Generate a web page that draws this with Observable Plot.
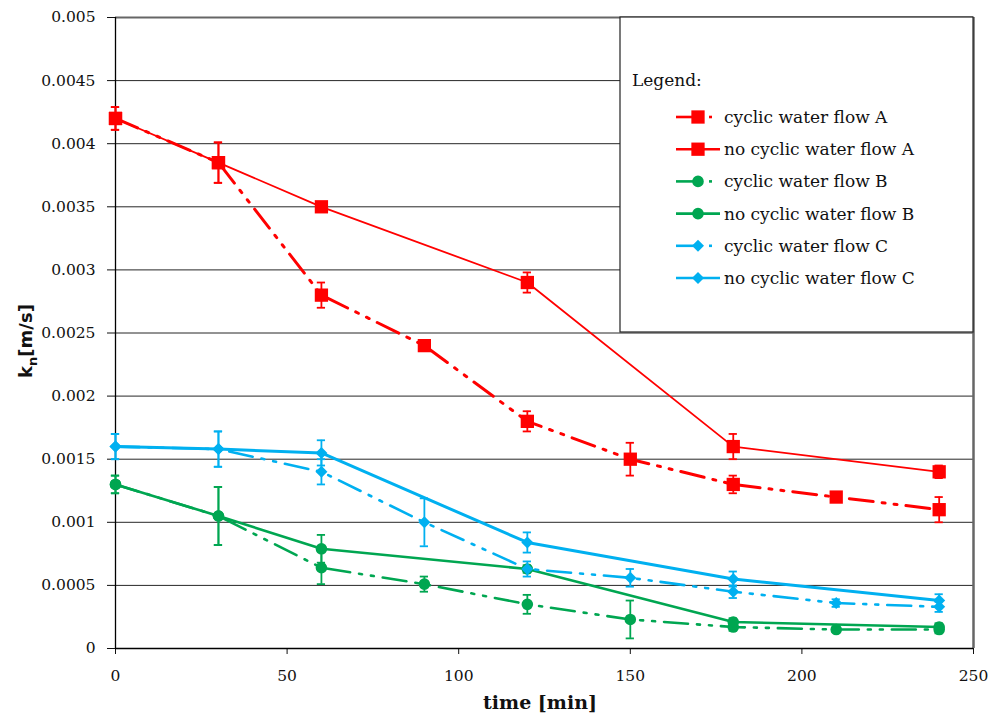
<!DOCTYPE html>
<html><head><meta charset="utf-8">
<script src="https://cdn.jsdelivr.net/npm/d3@7"></script>
<script src="https://cdn.jsdelivr.net/npm/@observablehq/plot@0.6"></script>
<style>
body{margin:0;background:#fff;}
#chart{position:relative;width:990px;height:715px;}
</style>
</head><body><div id="chart"></div>
<script>
// ---- data ----
const xTicks = [0, 50, 100, 150, 200, 250];
const yTicks = [0, 0.0005, 0.001, 0.0015, 0.002, 0.0025, 0.003, 0.0035, 0.004, 0.0045, 0.005];
const timeCyclic = [0, 30, 60, 90, 120, 150, 180, 210, 240];
const timeNoCyclic = [0, 30, 60, 120, 180, 240];

const cyclicA    = [0.0042, 0.00385, 0.0028, 0.0024, 0.0018, 0.0015, 0.0013, 0.0012, 0.0011];
const cyclicAErr = [0.00009, 0.00016, 0.0001, 0.00004, 0.00008, 0.00013, 0.00007, 0.00004, 0.0001];
const noCyclicA    = [0.0042, 0.00385, 0.0035, 0.0029, 0.0016, 0.0014];
const noCyclicAErr = [0.00009, 0.00016, 0.00003, 0.00008, 0.0001, 0.00005];

const cyclicB    = [0.0013, 0.00105, 0.00064, 0.00051, 0.00035, 0.00023, 0.00017, 0.00015, 0.00015];
const cyclicBErr = [0.00007, 0.00023, 0.00013, 0.00006, 0.000075, 0.00015, 0.00003, 0.00002, 0.00003];
const noCyclicB    = [0.0013, 0.00105, 0.00079, 0.00063, 0.00021, 0.00017];
const noCyclicBErr = [0.00007, 0.00023, 0.00011, 0.00003, 0.00003, 0.00003];

const cyclicC    = [0.0016, 0.00158, 0.0014, 0.001, 0.00063, 0.00056, 0.00045, 0.00036, 0.00033];
const cyclicCErr = [0.0001, 0.00014, 0.0001, 0.00019, 0.00006, 0.00007, 0.00005, 0.00003, 0.00004];
const noCyclicC    = [0.0016, 0.00158, 0.00155, 0.00084, 0.00055, 0.00038];
const noCyclicCErr = [0.0001, 0.00014, 0.0001, 0.00008, 0.00006, 0.00005];

const seriesNames = ["cyclic water flow A", "no cyclic water flow A", "cyclic water flow B",
                     "no cyclic water flow B", "cyclic water flow C", "no cyclic water flow C"];
const legendTitle = "Legend:";
const xLabel = "time [min]";

// ---- styles ----
const RED = "#ff0000", GREEN = "#00a651", BLUE = "#00b0f0";
const DASH = "24,9,3,9,3,9";
const series = [
  {name: seriesNames[0], t: timeCyclic,   v: cyclicA,   e: cyclicAErr,   color: RED,   symbol: "square",   r: 7.5, dash: DASH, w: 3},
  {name: seriesNames[1], t: timeNoCyclic, v: noCyclicA, e: noCyclicAErr, color: RED,   symbol: "square",   r: 7.5, dash: null, w: 1.8},
  {name: seriesNames[2], t: timeCyclic,   v: cyclicB,   e: cyclicBErr,   color: GREEN, symbol: "circle",   r: 5.8, dash: DASH, w: 2.6},
  {name: seriesNames[3], t: timeNoCyclic, v: noCyclicB, e: noCyclicBErr, color: GREEN, symbol: "circle",   r: 5.8, dash: null, w: 2.6},
  {name: seriesNames[4], t: timeCyclic,   v: cyclicC,   e: cyclicCErr,   color: BLUE,  symbol: "diamond2", r: 5.4, dash: DASH, w: 2.6},
  {name: seriesNames[5], t: timeNoCyclic, v: noCyclicC, e: noCyclicCErr, color: BLUE,  symbol: "diamond2", r: 5.4, dash: null, w: 3}
];
const rowsOf = s => s.t.map((t, i) => ({t, v: s.v[i], e: s.e[i], name: s.name}));
const CAP = 1.2; // cap half-width in minutes

const marks = [
  Plot.gridY(yTicks, {stroke: "#000", strokeOpacity: 0.85, strokeWidth: 1}),
  Plot.ruleY([yTicks[yTicks.length - 1]], {stroke: "#666", strokeWidth: 2}),
  Plot.ruleX([xTicks[xTicks.length - 1]], {stroke: "#666", strokeWidth: 2.5}),
  Plot.axisY({ticks: yTicks, tickSize: 8, tickPadding: 12, label: null,
              tickFormat: d => d === 0 ? "0" : d3.format(".4~f")(d)}),
  Plot.axisX({ticks: xTicks, tickSize: 6, tickPadding: 15, label: null}),
  Plot.ruleX([0], {stroke: "#000", strokeWidth: 1.3}),
  Plot.ruleY([0], {stroke: "#000", strokeWidth: 1.3})
];
for (const s of series) {
  const rows = rowsOf(s);
  marks.push(Plot.line(rows, {x: "t", y: "v", stroke: s.color, strokeWidth: s.w,
    strokeDasharray: s.dash || undefined, strokeLinejoin: "round"}));
}
for (const s of series) {
  const rows = rowsOf(s);
  marks.push(Plot.dot(rows, {x: "t", y: "v", symbol: () => s.symbol, r: s.r, fill: s.color, stroke: "none"}));
  marks.push(Plot.ruleX(rows, {x: "t", y1: d => d.v - d.e, y2: d => d.v + d.e, stroke: s.color, strokeWidth: 1.8}));
  marks.push(Plot.ruleY(rows, {y: d => d.v + d.e, x1: d => d.t - CAP, x2: d => d.t + CAP, stroke: s.color, strokeWidth: 1.8}));
  marks.push(Plot.ruleY(rows, {y: d => d.v - d.e, x1: d => d.t - CAP, x2: d => d.t + CAP, stroke: s.color, strokeWidth: 1.8}));
}

const plot = Plot.plot({
  width: 990, height: 715,
  marginLeft: 115, marginRight: 17, marginTop: 17, marginBottom: 67,
  x: {domain: [0, 250]},
  y: {domain: [0, 0.005]},
  symbol: {type: "identity"},
  style: {fontFamily: "DejaVu Serif", fontSize: "15.5px", color: "#111", background: "white", overflow: "visible"},
  marks
});
document.getElementById("chart").appendChild(plot);

// ---- axis titles and legend (layout) ----
const svg = d3.select(plot);
svg.append("text").attr("x", 540).attr("y", 709).attr("text-anchor", "middle")
  .attr("font-family", "DejaVu Serif").attr("font-weight", "bold").attr("font-size", 19)
  .attr("fill", "#111").text(xLabel);
const yl = svg.append("text").attr("transform", "translate(32,341) rotate(-90)").attr("text-anchor", "middle")
  .attr("font-family", "DejaVu Sans").attr("font-weight", "bold").attr("font-size", 18).attr("fill", "#111");
yl.append("tspan").text("k");
yl.append("tspan").attr("dy", 5).attr("font-size", 13).text("n");
yl.append("tspan").attr("dy", -5).text("[m/s]");

const lg = svg.append("g").attr("font-family", "DejaVu Serif").attr("font-size", 17)
  .attr("fill", "#111").attr("text-anchor", "start");
lg.append("rect").attr("x", 620).attr("y", 17).attr("width", 353).attr("height", 315)
  .attr("fill", "white").attr("stroke", "#222").attr("stroke-width", 1.2);
lg.append("text").attr("x", 632).attr("y", 86).attr("text-anchor", "start").text(legendTitle);
const sym = {square: d3.symbolSquare, circle: d3.symbolCircle, diamond2: d3.symbolDiamond2};
series.forEach((s, i) => {
  const cy = 117 + i * 32.2;
  if (s.dash) {
    lg.append("line").attr("x1", 676).attr("x2", 696).attr("y1", cy).attr("y2", cy)
      .attr("stroke", s.color).attr("stroke-width", 2.6);
    lg.append("line").attr("x1", 709).attr("x2", 712).attr("y1", cy).attr("y2", cy)
      .attr("stroke", s.color).attr("stroke-width", 2.6);
  } else {
    lg.append("line").attr("x1", 676).attr("x2", 720).attr("y1", cy).attr("y2", cy)
      .attr("stroke", s.color).attr("stroke-width", 2.6);
  }
  lg.append("path").attr("transform", `translate(698,${cy})`)
    .attr("d", d3.symbol(sym[s.symbol], Math.PI * s.r * s.r)()).attr("fill", s.color);
  lg.append("text").attr("x", 724).attr("y", cy + 6).attr("text-anchor", "start").text(s.name);
});
</script>
</body></html>
